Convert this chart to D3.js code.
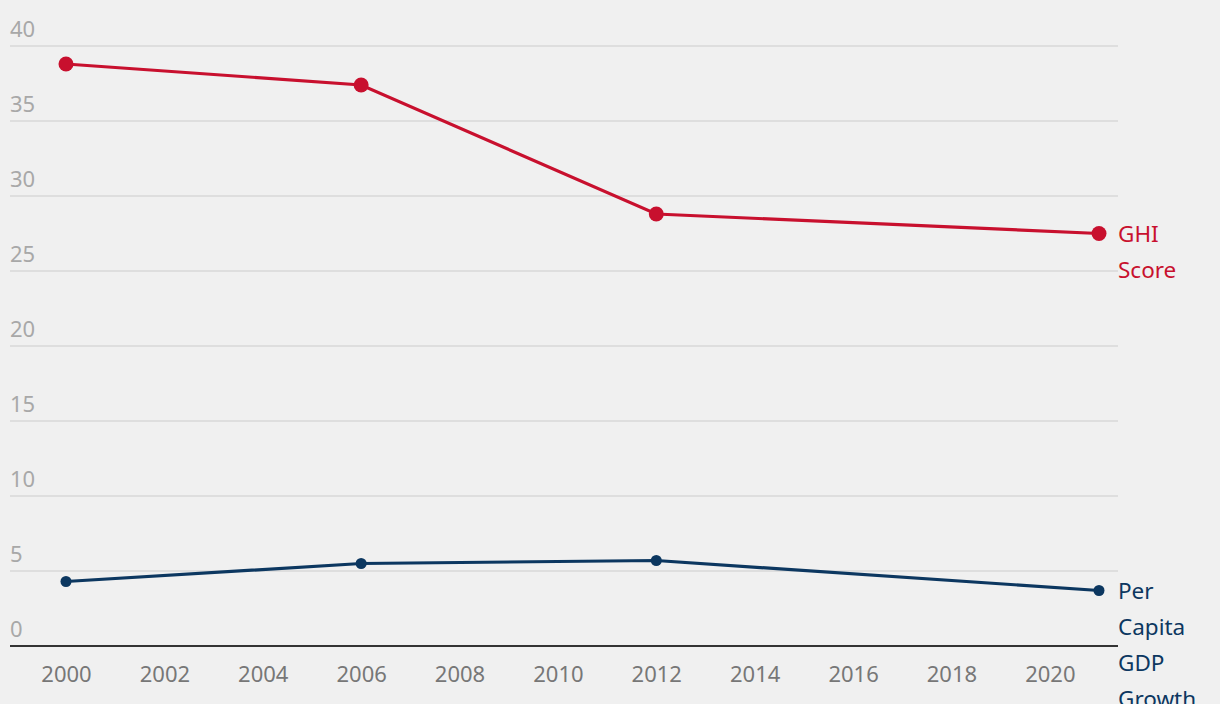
<!DOCTYPE html>
<html><head><meta charset="utf-8">
<script src="https://cdn.jsdelivr.net/npm/d3@7"></script>
<style>
html,body{margin:0;padding:0;background:#f0f0f0;}
svg{display:block;font-family:"Noto Sans","Open Sans",sans-serif;}
</style></head>
<body><svg id="c" width="1220" height="704"></svg>
<script>
const years = [2000, 2006, 2012, 2021];
const ghiScore = [38.8, 37.4, 28.8, 27.5];
const gdpGrowth = [4.3, 5.5, 5.7, 3.7];
const yTicks = [0, 5, 10, 15, 20, 25, 30, 35, 40];
const xTicks = [2000, 2002, 2004, 2006, 2008, 2010, 2012, 2014, 2016, 2018, 2020];
const seriesNames = [["GHI", "Score"], ["Per", "Capita", "GDP", "Growth"]];
const colors = ["#c8102e", "#0c3760"];

const svg = d3.select("#c");
const x = d3.scaleLinear().domain([2000, 2021]).range([66, 1099]);
const y = d3.scaleLinear().domain([0, 40]).range([646, 46]);
const left = 10, right = 1118;

// gridlines
svg.append("g").selectAll("line").data(yTicks.filter(d => d > 0)).join("line")
  .attr("x1", left).attr("x2", right).attr("y1", d => y(d)).attr("y2", d => y(d))
  .attr("stroke", "#d8d8d8").attr("stroke-width", 1.5);

// y labels
svg.append("g").selectAll("text").data(yTicks).join("text")
  .attr("x", left).attr("y", d => y(d) - 9)
  .attr("fill", "#a8a8a8").attr("font-size", 22).text(d => d);

// x axis
const xAxis = d3.axisBottom(x).tickValues(xTicks).tickFormat(d3.format("d")).tickSize(0).tickPadding(20);
const gx = svg.append("g").attr("transform", `translate(0,${y(0)})`).call(xAxis);
gx.select(".domain").remove();
gx.selectAll("text").attr("fill", "#777").attr("font-size", 22).attr("font-family", "\"Noto Sans\",sans-serif");
svg.append("line").attr("x1", left).attr("x2", right).attr("y1", y(0)).attr("y2", y(0))
  .attr("stroke", "#333").attr("stroke-width", 2);

const series = [ghiScore, gdpGrowth];
const radii = [7.5, 5.5];
const line = d3.line().x((d, i) => x(years[i])).y(d => y(d));
series.forEach((vals, si) => {
  svg.append("path").datum(vals).attr("d", line).attr("fill", "none")
    .attr("stroke", colors[si]).attr("stroke-width", 3.2);
  svg.append("g").selectAll("circle").data(vals).join("circle")
    .attr("cx", (d, i) => x(years[i])).attr("cy", d => y(d)).attr("r", radii[si])
    .attr("fill", colors[si]);
  const last = vals[vals.length - 1];
  const t = svg.append("text").attr("x", 1118).attr("y", y(last) + 8)
    .attr("fill", colors[si]).attr("font-size", 22.5);
  seriesNames[si].forEach((w, wi) => {
    t.append("tspan").attr("x", 1118).attr("dy", wi === 0 ? 0 : 36).text(w);
  });
});
</script></body></html>
